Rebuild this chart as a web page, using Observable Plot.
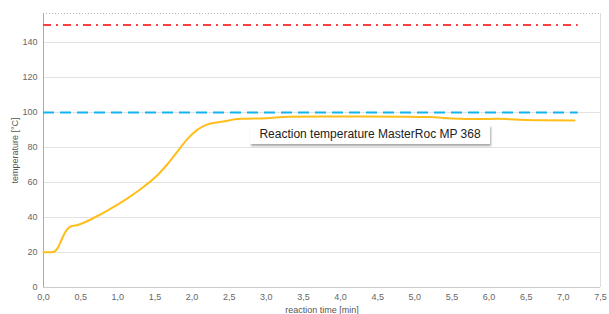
<!DOCTYPE html>
<html><head><meta charset="utf-8">
<script src="https://cdn.jsdelivr.net/npm/d3@7"></script>
<script src="https://cdn.jsdelivr.net/npm/@observablehq/plot@0.6"></script>
<style>
body{margin:0;background:#fff;font-family:"Liberation Sans",Arial,sans-serif;}
#wrap{position:relative;width:609px;height:314px;}
#legend{position:absolute;left:250px;top:125px;width:240px;height:19px;background:#fff;box-shadow:1px 2px 2px rgba(0,0,0,0.35);font-size:12px;color:#222;line-height:19px;text-align:center;font-family:"Liberation Sans",Arial,sans-serif;}
</style></head>
<body><div id="wrap"><div id="legend">Reaction temperature MasterRoc MP 368</div></div>
<script>
const time = [0.0,0.10,0.15,0.19,0.24,0.29,0.34,0.39,0.45,0.54,0.70,0.86,1.08,1.30,1.53,1.66,1.80,1.93,2.07,2.20,2.42,2.65,3.0,3.3,3.8,4.3,4.8,5.2,5.5,5.9,6.1,6.4,6.7,7.15];
const temp = [20.2,20.2,20.6,22.5,27,31.5,34.2,35.2,35.6,37,40.3,44,49.5,56,64,70,77.5,84.5,90.1,93.1,94.9,96.4,96.8,97.6,97.7,97.7,97.6,97.4,96.6,96.3,96.4,95.9,95.6,95.5];
const limits = [{value:150, color:"#ff3f3f", dash:"8,5,2,5"},{value:100, color:"#12b4f0", dash:"11,6"}];
const lineEnd = 7.2;
const xTicks = d3.range(0, 7.51, 0.5);
const yTicks = d3.range(0, 141, 20);
const data = time.map((t,i)=>({t, v:temp[i]}));
const fmt = d => d.toFixed(1).replace(".", ",");
const plot = Plot.plot({
  width:609, height:314,
  marginLeft:43, marginRight:9, marginTop:13, marginBottom:27,
  style:{fontFamily:"Liberation Sans, Arial, sans-serif", fontSize:"9px", color:"#666"},
  x:{domain:[0,7.5], ticks:xTicks, tickFormat:fmt, tickSize:0, tickPadding:6, label:"reaction time [min]", labelAnchor:"center", labelArrow:"none", labelOffset:25},
  y:{domain:[0,156.6], ticks:yTicks, tickSize:0, tickPadding:6, label:"temperature [°C]", labelAnchor:"center", labelArrow:"none", labelOffset:32},
  marks:[
    Plot.ruleY(yTicks.slice(1), {stroke:"#e3e3e3", strokeWidth:1}),
    Plot.ruleY([156.6], {stroke:"#bbb", strokeDasharray:"1,2"}),
    Plot.ruleX([7.5], {stroke:"#ddd"}),
    Plot.ruleY([0], {stroke:"#ccc"}),
    Plot.ruleX([0], {stroke:"#aaa"}),
    ...limits.map(l => Plot.ruleY([l.value], {x1:0, x2:lineEnd, stroke:l.color, strokeWidth:2, strokeDasharray:l.dash})),
    Plot.line(data, {x:"t", y:"v", stroke:"#ffbe1a", strokeWidth:2, curve:"monotone-x"})
  ]
});
plot.querySelectorAll('[aria-label="y-axis label"] text, [aria-label="x-axis label"] text').forEach(t=>{t.setAttribute("font-size","9px");t.setAttribute("fill","#555");});
document.getElementById("wrap").prepend(plot);
</script></body></html>
